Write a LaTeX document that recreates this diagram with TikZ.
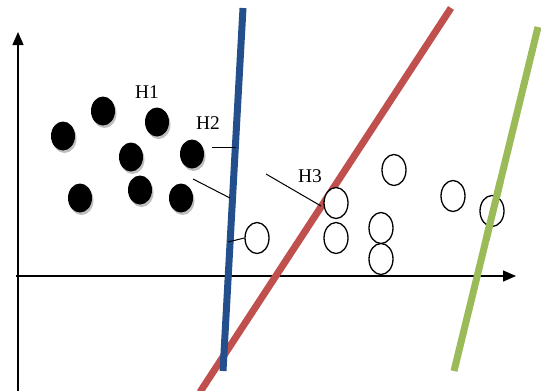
\documentclass[tikz,border=0pt]{standalone}
\usepackage{fontspec}
\setmainfont{Liberation Serif}
\usetikzlibrary{arrows.meta,shapes.geometric,calc}
\definecolor{hblue}{RGB}{35,80,140}
\definecolor{hred}{RGB}{192,80,77}
\definecolor{hgreen}{RGB}{155,187,89}
\tikzset{
  axis/.style={line width=1.3bp, -{Triangle[length=13bp,width=11bp]}},
  posdot/.style={ellipse, fill=black, minimum width=24bp, minimum height=29bp, inner sep=0pt,
    preaction={fill=black!25, transform canvas={shift={(1.5bp,-2.5bp)}}}},
  negdot/.style={ellipse, draw=black, line width=1.3bp, fill=white, minimum width=24bp, minimum height=31bp, inner sep=0pt},
  hyp/.style={line width=7bp},
  lab/.style={font=\fontsize{19.5}{19.5}\selectfont, inner sep=0pt},
  lead/.style={line width=1bp}
}
\begin{document}
\begin{tikzpicture}[x=1bp,y=-1bp]
\useasboundingbox (0,0) rectangle (541,390);
% axes
\coordinate (yb) at (18,392);
\coordinate (yt) at (18,32);
\coordinate (xl) at (16,276);
\coordinate (xr) at (516,276);
\draw[axis] (yb) -- (yt);
\draw[axis] (xl) -- (xr);
% black points
\node[posdot] (p1) at (63,136) {};
\node[posdot] (p2) at (103,111) {};
\node[posdot] (p3) at (157,122) {};
\node[posdot] (p4) at (131,157) {};
\node[posdot] (p5) at (192,154) {};
\node[posdot] (p6) at (80,198) {};
\node[posdot] (p7) at (140,190) {};
\node[posdot] (p8) at (181,198) {};
% hyperplanes
\coordinate (bt) at (243,8);
\coordinate (bb) at (223,371);
\coordinate (rt) at (451,8);
\coordinate (rb) at (200,392);
\coordinate (gt) at (538,27);
\coordinate (gb) at (454,371);
\draw[hyp, hred] (rt) -- (rb);
\draw[hyp, hgreen] (gt) -- (gb);
% open points
\node[negdot] (n1) at (257,238) {};
\node[negdot] (n2) at (336,203) {};
\node[negdot] (n3) at (336,238) {};
\node[negdot] (n4) at (394,170) {};
\node[negdot] (n5) at (381,228) {};
\node[negdot] (n6) at (381,259) {};
\node[negdot] (n7) at (453,196) {};
\node[negdot] (n8) at (492,211) {};
\draw[hyp, hgreen] ($(gt)!0.45!(gb)$) -- ($(gt)!0.62!(gb)$);
\draw[hyp, hblue] (bt) -- (bb);
% labels
\node[lab] (h1) at (147,92) {H1};
\node[lab] (h2) at (208,123) {H2};
\node[lab] (h3) at (310,176) {H3};
% leaders
\coordinate (l1a) at (212,147);
\coordinate (l1b) at (236,147);
\coordinate (l2a) at (193,179);
\coordinate (l2b) at (230,198);
\coordinate (l3a) at (228,242);
\coordinate (l4a) at (266,174);
\coordinate (l4b) at (321,206);
\draw[lead] (l1a) -- (l1b);
\draw[lead] (l2a) -- (l2b);
\draw[lead] (l3a) -- (n1.west);
\draw[lead] (l4a) -- (l4b);
\end{tikzpicture}
\end{document}
